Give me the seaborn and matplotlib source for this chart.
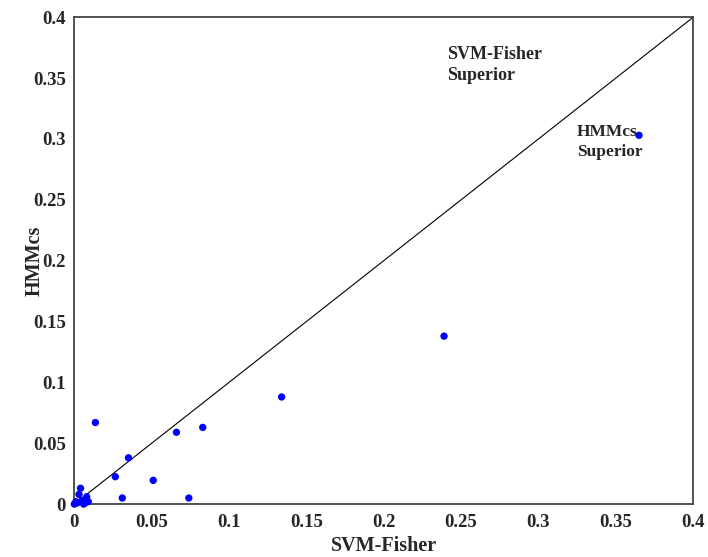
import numpy as np
import matplotlib.pyplot as plt
import seaborn as sns
import pandas as pd

# values
svm_fisher = [0.365, 0.239, 0.134, 0.083, 0.066, 0.074, 0.051, 0.035, 0.031,
              0.0265, 0.0136, 0.004, 0.003, 0.008, 0.007, 0.005, 0.002, 0.001,
              0.0, 0.006, 0.009]
hmmcs = [0.303, 0.138, 0.088, 0.063, 0.059, 0.005, 0.0195, 0.038, 0.005,
         0.0225, 0.067, 0.013, 0.008, 0.006, 0.001, 0.003, 0.001, 0.002,
         0.0, 0.0, 0.002]
df = pd.DataFrame({'SVM-Fisher': svm_fisher, 'HMMcs': hmmcs})

ticks = [0, 0.05, 0.1, 0.15, 0.2, 0.25, 0.3, 0.35, 0.4]
tick_labels = ['0', '0.05', '0.1', '0.15', '0.2', '0.25', '0.3', '0.35', '0.4']

sns.set_style('white')
plt.rcParams['font.family'] = ['Liberation Serif', 'DejaVu Serif']
plt.rcParams['font.weight'] = 'bold'

fig = plt.figure(figsize=(7.08, 5.57), dpi=100)
ax = fig.add_axes([0.105, 0.095, 0.874, 0.874])

# diagonal y = x
ax.plot([0, 0.4], [0, 0.4], color='black', lw=0.8)
sns.scatterplot(data=df, x='SVM-Fisher', y='HMMcs', color='#0000ff',
                s=28, edgecolor='none', ax=ax, zorder=3, clip_on=False)

ax.set_xlim(0, 0.4)
ax.set_ylim(0, 0.4)
ax.set_xticks(ticks)
ax.set_xticklabels(tick_labels)
ax.set_yticks(ticks)
ax.set_yticklabels(tick_labels)
ax.tick_params(direction='in', length=5, width=0.8, labelsize=13.5, color='#444444')
ax.tick_params(axis='x', pad=7)
ax.tick_params(axis='y', pad=6)
for s in ax.spines.values():
    s.set_color('#444444')
    s.set_linewidth(1.3)
ax.set_xlabel('SVM-Fisher', fontsize=14.5, fontweight='bold')
ax.set_ylabel('HMMcs', fontsize=14.5, fontweight='bold')
ax.xaxis.set_label_coords(0.5, -0.066)
ax.yaxis.set_label_coords(-0.048, 0.5)

ax.text(0.241, 0.376, 'SVM-Fisher\nSuperior', fontsize=13, fontweight='bold',
        va='top', ha='left', linespacing=1.25)
ax.text(0.325, 0.312, 'HMMcs\nSuperior', fontsize=12.5, fontweight='bold',
        va='top', ha='left', linespacing=1.3)

plt.savefig('out.png', dpi=100)
